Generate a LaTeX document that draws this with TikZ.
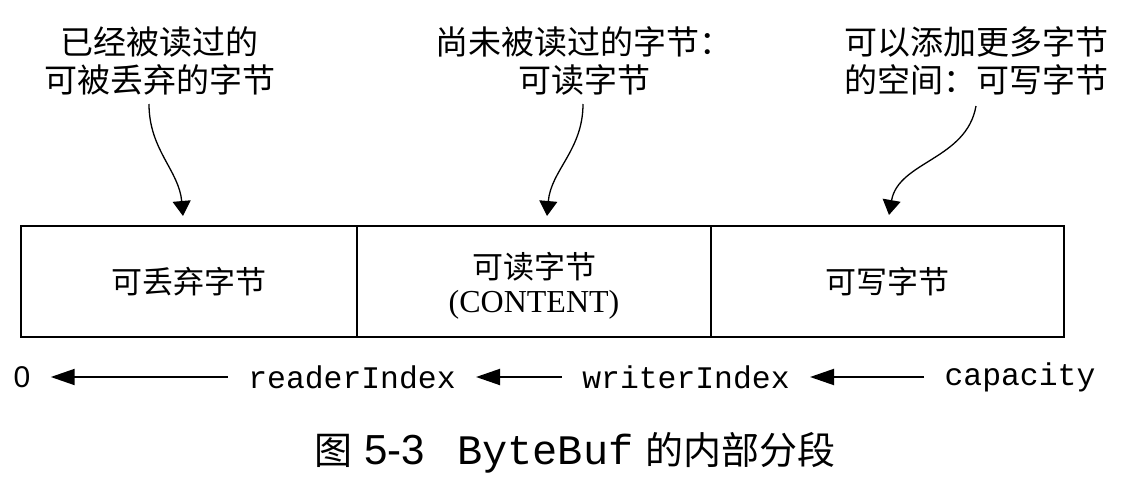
\documentclass[tikz,border=0pt]{standalone}
\usepackage{fontspec}
\setmainfont{Liberation Serif}
\setsansfont{Liberation Sans}
\setmonofont{Liberation Mono}
\newfontfamily\cjk{Noto Sans CJK SC}
\usetikzlibrary{arrows.meta}
\begin{document}
\begin{tikzpicture}[x=0.5pt, y=-0.5pt,
		cell/.style={draw, line width=1.2pt, minimum height=55.5pt, inner sep=0pt, outer sep=0pt, align=center,
			font=\fontsize{15.5}{17}\selectfont},
		toplabel/.style={align=center, inner sep=0pt, font=\cjk\fontsize{16.5}{19}\selectfont},
		idx/.style={inner sep=0pt, font=\ttfamily\fontsize{15.7}{18}\selectfont},
		pointer/.style={line width=0.65pt, -{Triangle[length=7.5pt, width=9pt]}},
		back/.style={line width=1pt, -{Triangle[length=12pt, width=8pt]}, shorten >=10pt, shorten <=10pt}]
		\useasboundingbox (0,0) rectangle (1137,477);

		% Draw the three parts of the buffer
		\node[cell, minimum width=168pt] (discard) at (189, 281.5) {\cjk 可丢弃字节};
		\node[cell, minimum width=177pt] (readable) at (534, 281.5)
			{\rule{0pt}{17pt}{\cjk 可读字节}\\{\fontsize{16}{17}\selectfont (CONTENT)}};
		\node[cell, minimum width=176.5pt] (writable) at (887.5, 281.5) {\cjk 可写字节};

		% Draw the labels above the buffer
		\node[toplabel] (ldiscard) at (160, 61) {已经被读过的\\可被丢弃的字节};
		\node[toplabel] (lreadable) at (584, 61) {尚未被读过的字节：\\可读字节};
		\node[toplabel] (lwritable) at (976, 61) {可以添加更多字节\\的空间：可写字节};

		% Draw the curved pointers
		\coordinate (s1) at (149, 104);
		\coordinate (e1) at (183, 216);
		\coordinate (s2) at (583, 104);
		\coordinate (e2) at (547, 216);
		\coordinate (s3) at (976, 106);
		\coordinate (e3) at (889, 215);
		\draw[pointer] (s1) to[out=-90, in=95] (e1);
		\draw[pointer] (s2) to[out=-90, in=85] (e2);
		\draw[pointer] (s3) to[out=-100, in=80] (e3);

		% Draw the indices below the buffer
		\node[inner sep=0pt, font=\sffamily\fontsize{15}{18}\selectfont] (zero) at (22, 377) {0};
		\node[idx] (reader) at (352, 377) {readerIndex};
		\node[idx] (writer) at (686, 377) {writerIndex};
		\node[idx] (cap) at (1020, 377) {capacity};

		\draw[back] (reader) -- (zero);
		\draw[back] (writer) -- (reader);
		\draw[back] (cap) -- (writer);

		% Caption
		\node[inner sep=0pt] (caption) at (575, 453)
			{{\cjk\fontsize{19}{22}\selectfont 图}\hspace{6pt}{\sffamily\fontsize{21}{22}\selectfont 5-3}\hspace{16pt}{\ttfamily\fontsize{21}{22}\selectfont ByteBuf}\hspace{6pt}{\cjk\fontsize{19}{22}\selectfont 的内部分段}};

	\end{tikzpicture}
\end{document}
